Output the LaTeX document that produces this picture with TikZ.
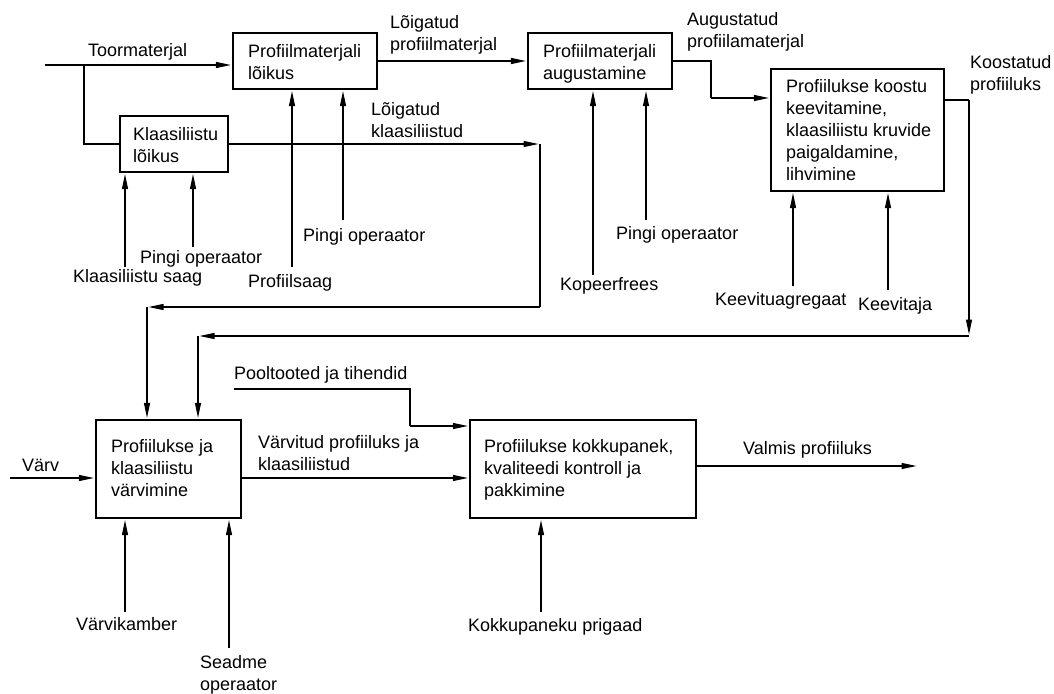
\documentclass[tikz,border=0pt]{standalone}
\usepackage{fontspec}
\setmainfont{Liberation Sans}
\usetikzlibrary{arrows.meta}
\newcommand\lfont{\fontsize{18}{22}\selectfont}
\tikzset{
  box/.style={draw, line width=1.2pt, rectangle, inner sep=0pt},
  lbl/.style={anchor=north west, inner sep=0pt, align=left, font=\lfont},
  conn/.style={line width=1.1pt},
  arr/.style={conn, -{Triangle[length=15pt,width=6pt]}, shorten >=1.5pt}
}
\begin{document}
\begin{tikzpicture}[x=1pt,y=-1pt]
\useasboundingbox (0,0) rectangle (1054,693);
% boxes
\node[box, minimum width=144pt, minimum height=56pt] (b1) at (305,61) {};
\node[box, minimum width=108pt, minimum height=56pt] (b2) at (174,144) {};
\node[box, minimum width=144pt, minimum height=56pt] (b3) at (600,61) {};
\node[box, minimum width=173pt, minimum height=122pt] (b4) at (857.5,130) {};
\node[box, minimum width=145pt, minimum height=98pt] (b5) at (168.5,469) {};
\node[box, minimum width=226pt, minimum height=98pt] (b6) at (583,469) {};
% box texts
\node[lbl] (b1t) at (248,42.3) {\strut Profiilmaterjali\\lõikus};
\node[lbl] (b2t) at (133,124.6) {\strut Klaasiliistu\\lõikus};
\node[lbl] (b3t) at (543,41.6) {\strut Profiilmaterjali\\augustamine};
\node[lbl] (b4t) at (786,77.3) {\strut Profiilukse koostu\\keevitamine,\\klaasiliistu kruvide\\paigaldamine,\\lihvimine};
\node[lbl] (b5t) at (111,436.6) {\strut Profiilukse ja\\klaasiliistu\\värvimine};
\node[lbl] (b6t) at (484,436.6) {\strut Profiilukse kokkupanek,\\kvaliteedi kontroll ja\\pakkimine};
% labels
\node[lbl] (l1) at (88,41.3) {\strut Toormaterjal};
\node[lbl] (l2) at (390,12.9) {\strut Lõigatud\\profiilmaterjal};
\node[lbl] (l3) at (371,99.6) {\strut Lõigatud\\klaasiliistud};
\node[lbl] (l4) at (687,9.6) {\strut Augustatud\\profiilamaterjal};
\node[lbl] (l5) at (970,52.6) {\strut Koostatud\\profiiluks};
\node[lbl] (l6) at (140,247.6) {\strut Pingi operaator};
\node[lbl] (l7) at (73,266.6) {\strut Klaasiliistu saag};
\node[lbl] (l8) at (248,271.6) {\strut Profiilsaag};
\node[lbl] (l9) at (303,225.6) {\strut Pingi operaator};
\node[lbl] (l10) at (560,274.6) {\strut Kopeerfrees};
\node[lbl] (l11) at (616,223.6) {\strut Pingi operaator};
\node[lbl] (l12) at (715,289.6) {\strut Keevituagregaat};
\node[lbl] (l13) at (858,294.6) {\strut Keevitaja};
\node[lbl] (l14) at (22,455.6) {\strut Värv};
\node[lbl] (l15) at (234,363.6) {\strut Pooltooted ja tihendid};
\node[lbl] (l16) at (258,432.6) {\strut Värvitud profiiluks ja\\klaasiliistud};
\node[lbl] (l17) at (76,614.6) {\strut Värvikamber};
\node[lbl] (l18) at (200,652.6) {\strut Seadme\\operaator};
\node[lbl] (l19) at (743,438.6) {\strut Valmis profiiluks};
\node[lbl] (l20) at (468,615.6) {\strut Kokkupaneku prigaad};
% coordinates
\coordinate (tin) at (45,65);
\coordinate (tbr) at (84,65);
\coordinate (c1) at (540,144);
\coordinate (c2) at (540,307);
\coordinate (c3) at (147,307);
\coordinate (d1) at (711,61);
\coordinate (d2) at (711,98);
\coordinate (e1) at (969,100);
\coordinate (e2) at (969,336);
\coordinate (e3) at (198,336);
\coordinate (f1) at (10,478);
\coordinate (g1) at (234,389);
\coordinate (g2) at (410,389);
\coordinate (g3) at (410,426);
\coordinate (k1) at (918,466);
\coordinate (m1) at (125,267);
\coordinate (m2) at (193,247);
\coordinate (m3) at (292,267);
\coordinate (m4) at (343,220);
\coordinate (m5) at (593,275);
\coordinate (m6) at (646,220);
\coordinate (m7) at (793,286);
\coordinate (m8) at (888,290);
\coordinate (m9) at (125,612);
\coordinate (m10) at (229,648);
\coordinate (m11) at (541,612);
% connectors
\draw[arr] (tin) -- (tin -| b1.west);
\draw[conn] (tbr) |- (b2.west);
\draw[arr] (b1.east) -- (b3.west);
\draw[arr] (b2.east) -- (c1);
\draw[conn] (c1) -- (c2);
\draw[arr] (c2) -- (c3);
\draw[arr] (c3) -- (c3 |- b5.north);
\draw[conn] (b3.east) -- (d1) -- (d2);
\draw[arr] (d2) -- (d2 -| b4.west);
\draw[conn] (e1 -| b4.east) -- (e1);
\draw[arr] (e1) -- (e2);
\draw[arr] (e2) -- (e3);
\draw[arr] (e3) -- (e3 |- b5.north);
\draw[arr] (f1) -- (f1 -| b5.west);
\draw[conn] (g1) -- (g2) -- (g3);
\draw[arr] (g3) -- (g3 -| b6.west);
\draw[arr] (f1 -| b5.east) -- (f1 -| b6.west);
\draw[arr] (k1 -| b6.east) -- (k1);
\draw[arr] (m1) -- (m1 |- b2.south);
\draw[arr] (m2) -- (m2 |- b2.south);
\draw[arr] (m3) -- (m3 |- b1.south);
\draw[arr] (m4) -- (m4 |- b1.south);
\draw[arr] (m5) -- (m5 |- b3.south);
\draw[arr] (m6) -- (m6 |- b3.south);
\draw[arr] (m7) -- (m7 |- b4.south);
\draw[arr] (m8) -- (m8 |- b4.south);
\draw[arr] (m9) -- (m9 |- b5.south);
\draw[arr] (m10) -- (m10 |- b5.south);
\draw[arr] (m11) -- (m11 |- b6.south);
\end{tikzpicture}
\end{document}
